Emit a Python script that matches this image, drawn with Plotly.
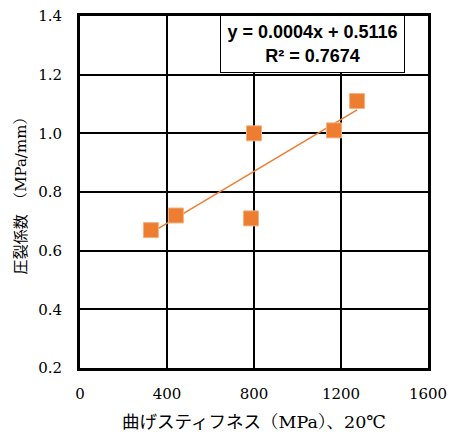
import numpy as np
import plotly.graph_objects as go

stiffness = [326, 441, 800, 786, 1168, 1274]
coef = [0.67, 0.72, 1.00, 0.71, 1.01, 1.11]
x_ticks = [0, 400, 800, 1200, 1600]
y_ticks = [0.2, 0.4, 0.6, 0.8, 1.0, 1.2, 1.4]
eq_text = "y = 0.0004x + 0.5116<br>R² = 0.7674"

slope, intercept = np.polyfit(stiffness, coef, 1)
xl = np.array([min(stiffness), max(stiffness)])
yl = slope * xl + intercept

orange = "#ED7D31"
serif = "DejaVu Serif, Noto Serif CJK JP"

fig = go.Figure()
fig.add_trace(go.Scatter(x=xl, y=yl, mode="lines",
                         line=dict(color=orange, width=1.5), showlegend=False))
fig.add_trace(go.Scatter(x=stiffness, y=coef, mode="markers",
                         marker=dict(symbol="square", size=15, color=orange,
                                     line=dict(color="#F4B183", width=1)),
                         showlegend=False))

fig.add_annotation(xref="paper", yref="paper", x=0.668, y=0.92,
                   xanchor="center", yanchor="middle",
                   text=eq_text, showarrow=False, align="center",
                   font=dict(family="Liberation Sans", size=18, color="black", weight="bold"),
                   bgcolor="white", bordercolor="black", borderwidth=1,
                   borderpad=0, width=183, height=56)

xtitle = ("<span style='font-family:Noto Sans CJK JP'>曲げスティフネス</span>"
          "（MPa）、20℃")
ytitle = ("<span style='font-family:Noto Sans CJK JP;font-size:15px'>圧裂係数</span>"
          "　（MPa/mm）")

fig.update_layout(
    width=450, height=440,
    margin=dict(l=80, r=22, t=16, b=72, autoexpand=False),
    plot_bgcolor="white", paper_bgcolor="white",
    font=dict(family=serif, size=15, color="black"),
    xaxis=dict(range=[0, 1600], tickvals=x_ticks, ticktext=[str(v) for v in x_ticks],
               showgrid=True, gridcolor="black", gridwidth=1.5,
               showline=True, linecolor="black", linewidth=3, mirror=True,
               zeroline=False, ticks="", ticklabelstandoff=10, automargin=False,
               tickfont=dict(family=serif, size=15),
               title=dict(text=xtitle, font=dict(family=serif, size=17.5), standoff=14)),
    yaxis=dict(range=[0.2, 1.4], tickvals=y_ticks, ticktext=[f"{v:.1f}" for v in y_ticks],
               showgrid=True, gridcolor="black", gridwidth=1.5,
               showline=True, linecolor="black", linewidth=3, mirror=True,
               zeroline=False, ticks="", ticklabelstandoff=12, automargin=False,
               tickfont=dict(family=serif, size=15),
               title=dict(text=ytitle, font=dict(family=serif, size=15), standoff=8)),
)

fig.write_html("out.html")
